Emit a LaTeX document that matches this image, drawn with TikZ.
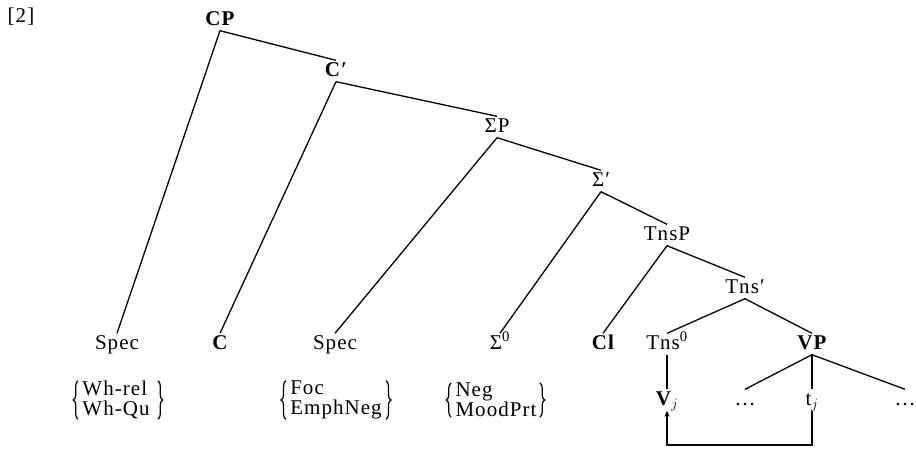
\documentclass[tikz,border=0pt]{standalone}
\usepackage{fontspec}
\setmainfont{Liberation Serif}[LetterSpace=5]
\usetikzlibrary{arrows.meta,decorations.pathreplacing}
\begin{document}
\begin{tikzpicture}[x=1pt,y=-1pt,
  lab/.style={font=\fontsize{21}{23}\selectfont, inner sep=1.5pt, text height=14pt, text depth=4pt},
  blab/.style={lab, font=\fontsize{21}{23}\selectfont\bfseries},
  feat/.style={font=\fontsize{21}{20}\selectfont, inner sep=0pt, align=left},
  edge/.style={line width=1.3pt},
  curly/.style={decorate, decoration={brace, amplitude=5pt}, line width=1.2pt}
]
\useasboundingbox (0,0) rectangle (916,448);
\node[font=\fontsize{21}{24}\selectfont, inner sep=0pt] (num) at (21,17) {[2]};
% internal nodes
\node[blab] (CP) at (220,20) {CP};
\node[blab] (Cb) at (336,71) {C′};
\node[lab] (SP) at (497,127) {ΣP};
\node[lab] (Sb) at (601,181) {Σ′};
\node[lab] (TP) at (667,235) {TnsP};
\node[lab] (Tb) at (745,288) {Tns′};
% leaves
\node[lab] (spec1) at (117,344) {Spec};
\node[blab] (C) at (220,344) {C};
\node[lab] (spec2) at (335,344) {Spec};
\node[lab] (S0) at (500,344) {Σ\textsuperscript{0}};
\node[blab] (Cl) at (603,344) {Cl};
\node[lab] (T0) at (667,344) {Tns\textsuperscript{0}};
\node[blab] (VP) at (812,344) {VP};
\node[blab] (Vj) at (667,400) {V$_{j}$};
\node[lab] (d1) at (745,400) {\dots};
\node[lab] (tj) at (812,400) {t$_{j}$};
\node[lab] (d2) at (905,400) {\dots};
% feature sets
\node[feat] (f1) at (116,400) {Wh-rel\\Wh-Qu};
\node[feat] (f2) at (336,400) {Foc\\EmphNeg};
\node[feat] (f3) at (496,400) {Neg\\MoodPrt};
\draw[curly] ([xshift=-4pt]f1.south west) -- ([xshift=-4pt]f1.north west);
\draw[curly] ([xshift=8pt]f1.north east) -- ([xshift=8pt]f1.south east);
\draw[curly] ([xshift=-4pt]f2.south west) -- ([xshift=-4pt]f2.north west);
\draw[curly] ([xshift=4pt]f2.north east) -- ([xshift=4pt]f2.south east);
\draw[curly] ([xshift=-4pt]f3.south west) -- ([xshift=-4pt]f3.north west);
\draw[curly] ([xshift=3pt]f3.north east) -- ([xshift=3pt]f3.south east);
% edges
\draw[edge] (CP.south) -- (spec1.north);
\draw[edge] (CP.south) -- (Cb.north);
\draw[edge] (Cb.south) -- (C.north);
\draw[edge] (Cb.south) -- (SP.north);
\draw[edge] (SP.south) -- (spec2.north);
\draw[edge] (SP.south) -- (Sb.north);
\draw[edge] (Sb.south) -- (S0.north);
\draw[edge] (Sb.south) -- (TP.north);
\draw[edge] (TP.south) -- (Cl.north);
\draw[edge] (TP.south) -- (Tb.north);
\draw[edge] (Tb.south) -- (T0.north);
\draw[edge] (Tb.south) -- (VP.north);
\draw[edge] (T0.south) -- (Vj.north);
\draw[edge] (VP.south) -- (d1.north);
\draw[edge] (VP.south) -- (tj.north);
\draw[edge] (VP.south) -- (d2.north);
\coordinate (b1) at (812,445);
\coordinate (b2) at (667,445);
\draw[edge, -{Stealth[length=6pt,width=5pt]}] (tj.south) -- (b1) -- (b2) -- (Vj.south);
\end{tikzpicture}
\end{document}
